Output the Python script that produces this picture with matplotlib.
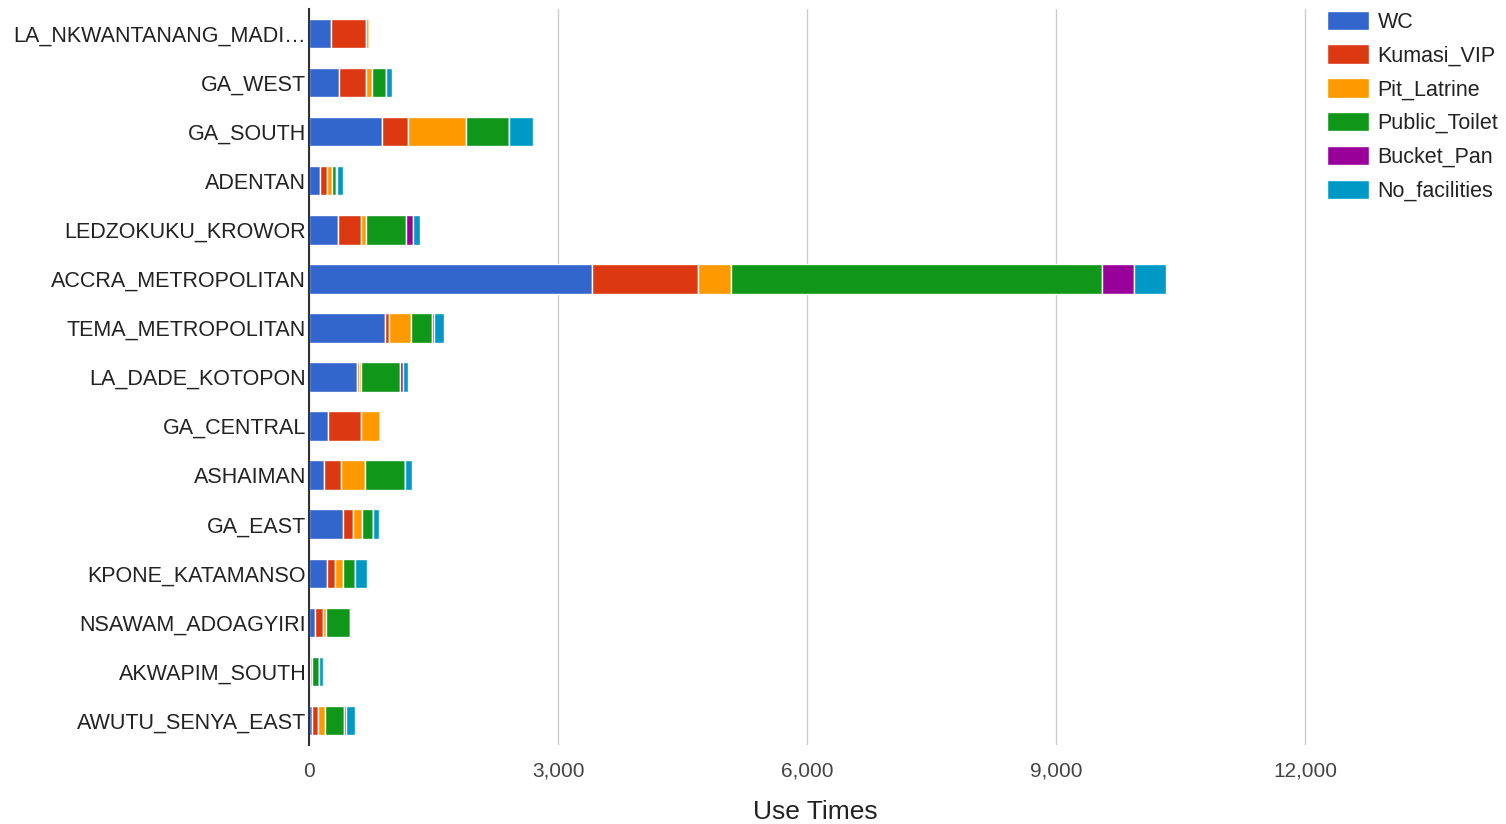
import matplotlib
matplotlib.use("Agg")
import matplotlib.pyplot as plt
import numpy as np

plt.rcParams['font.family'] = ['Liberation Sans', 'DejaVu Sans']

districts = ['LA_NKWANTANANG_MADI…', 'GA_WEST', 'GA_SOUTH', 'ADENTAN',
             'LEDZOKUKU_KROWOR', 'ACCRA_METROPOLITAN', 'TEMA_METROPOLITAN',
             'LA_DADE_KOTOPON', 'GA_CENTRAL', 'ASHAIMAN', 'GA_EAST',
             'KPONE_KATAMANSO', 'NSAWAM_ADOAGYIRI', 'AKWAPIM_SOUTH',
             'AWUTU_SENYA_EAST']

wc            = [268, 360, 880, 136, 345, 3407, 913, 575, 233, 185, 414, 217, 72, 5, 32]
kumasi_vip    = [420, 325, 310, 80, 277, 1282, 48, 32, 394, 197, 113, 101, 101, 10, 72]
pit_latrine   = [30, 80, 700, 64, 64, 393, 273, 20, 225, 289, 113, 96, 36, 25, 84]
public_toilet = [0, 165, 520, 48, 486, 4468, 253, 466, 0, 490, 129, 145, 286, 80, 237]
bucket_pan    = [0, 0, 0, 8, 84, 387, 20, 40, 0, 0, 0, 0, 12, 0, 16]
no_facilities = [0, 75, 290, 72, 76, 393, 117, 56, 0, 76, 80, 145, 16, 44, 117]

series = [('WC', wc, '#3366CC'),
          ('Kumasi_VIP', kumasi_vip, '#DC3912'),
          ('Pit_Latrine', pit_latrine, '#FF9900'),
          ('Public_Toilet', public_toilet, '#109618'),
          ('Bucket_Pan', bucket_pan, '#990099'),
          ('No_facilities', no_facilities, '#0099C6')]

fig = plt.figure(figsize=(15.06, 8.24), dpi=100)
ax = fig.add_axes([309/1506, 79/824, 998/1506, 736/824])

ypos = np.arange(len(districts))
left = np.zeros(len(districts))
for name, vals, col in series:
    vals = np.array(vals, dtype=float)
    ax.barh(ypos, vals, 0.6, left=left, color=col, edgecolor='white',
            linewidth=1, label=name, zorder=3)
    left += vals

ax.set_ylim(len(districts) - 0.5, -0.5)
ax.set_xlim(0, 12024)
ax.set_yticks(ypos)
ax.set_yticklabels(districts, fontsize=15.5, color='#222222')
ax.set_xticks([0, 3000, 6000, 9000, 12000])
ax.set_xticklabels(['0', '3,000', '6,000', '9,000', '12,000'],
                   fontsize=15, color='#444444')
ax.tick_params(axis='y', length=0, pad=2)
ax.tick_params(axis='x', length=0, pad=12)
ax.grid(axis='x', color='#cccccc', linewidth=1, zorder=0)
for s in ['top', 'right', 'bottom']:
    ax.spines[s].set_visible(False)
ax.spines['left'].set_color('#333333')
ax.spines['left'].set_linewidth(1.5)
ax.spines['left'].set_zorder(4)

fig.text(815/1506, 1 - 812/824, 'Use Times', fontsize=19, color='#222222',
         ha='center', va='center')

handles, labels = ax.get_legend_handles_labels()
fig.legend(handles, labels, loc='upper left', bbox_to_anchor=(1318/1506, 1 - 2/824),
           frameon=False, fontsize=15.5, handlelength=1.95, handleheight=1.0,
           handletextpad=0.42, labelspacing=0.55, borderaxespad=0,
           labelcolor='#222222')

fig.savefig('out.png', dpi=100)
